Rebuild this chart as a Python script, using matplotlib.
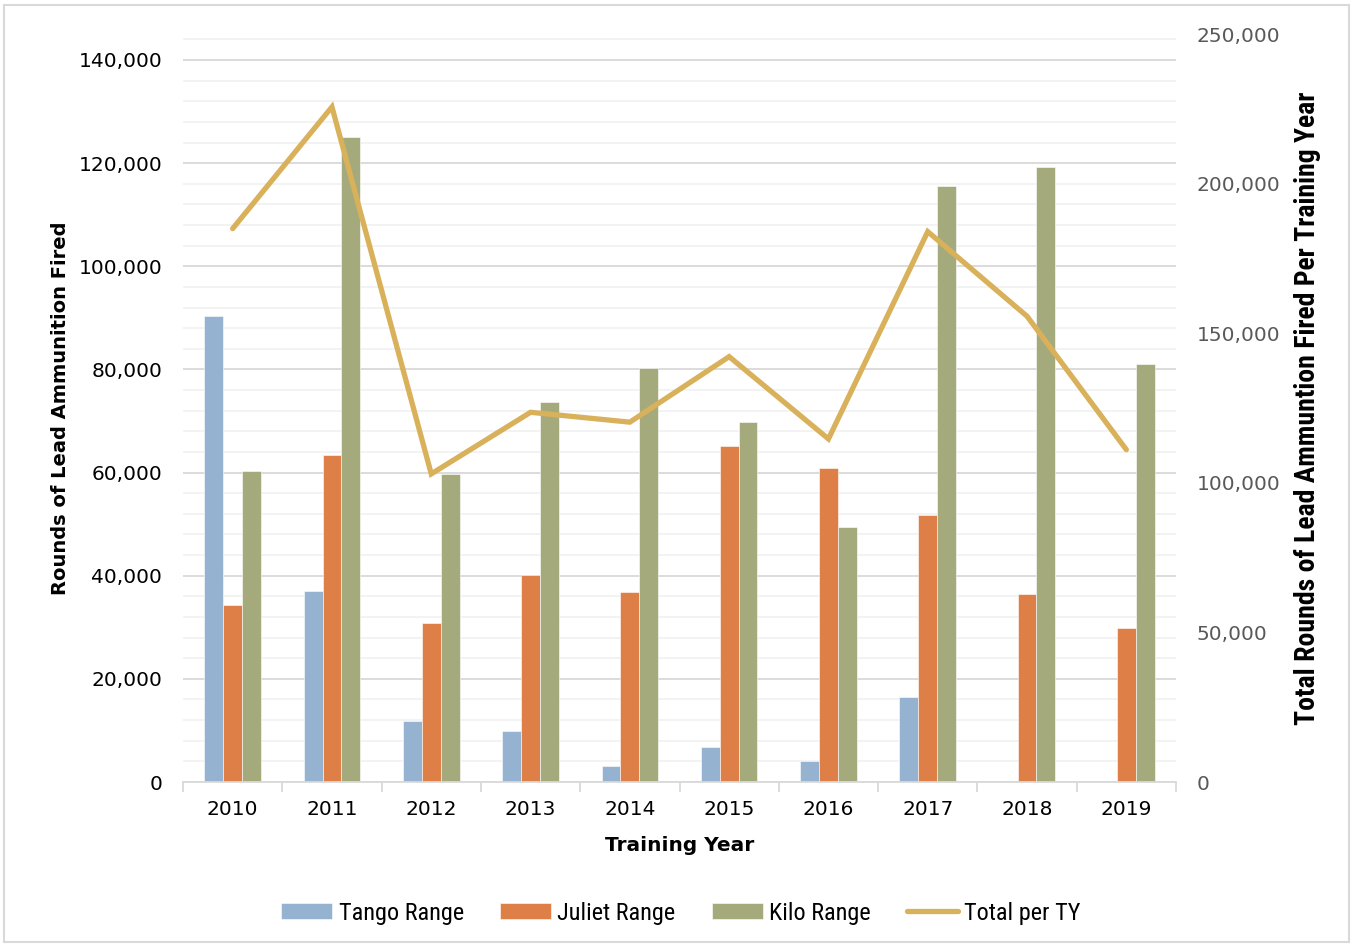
import matplotlib
matplotlib.use("Agg")
import matplotlib.pyplot as plt
import numpy as np
from matplotlib.ticker import FuncFormatter, MultipleLocator
from matplotlib.patches import Rectangle
from matplotlib import font_manager

years = ["2010", "2011", "2012", "2013", "2014", "2015", "2016", "2017", "2018", "2019"]
tango = [90300, 37000, 11900, 9800, 3100, 6800, 4100, 16400, 0, 0]
juliet = [34300, 63400, 30800, 40100, 36800, 65200, 60900, 51700, 36500, 29900]
kilo = [60300, 125000, 59800, 73600, 80200, 69800, 49400, 115600, 119300, 81100]
total = [185000, 225700, 103000, 123600, 120300, 142200, 114700, 184000, 155700, 111100]

names = set(f.name for f in font_manager.fontManager.ttflist)
narrow_fams = [f for f in ['Roboto Condensed', 'Liberation Sans Narrow', 'Roboto'] if f in names] + ['DejaVu Sans']
plt.rcParams['font.family'] = ['DejaVu Sans']

fig = plt.figure(figsize=(13.53, 9.47), dpi=100)
fig.patches.append(Rectangle((4/1353, 5/947), 1345/1353, 937/947, transform=fig.transFigure,
                             fill=False, edgecolor='#d9d9d9', linewidth=1.5))

ax = fig.add_axes([183/1353, 165/947, 993/1353, 747.8/947])
x = np.arange(len(years))
w = 0.19
c_t, c_j, c_k, c_l = '#95b3d1', '#dd7f47', '#a5aa7d', '#d9b15b'
ax.bar(x - w, tango, w, color=c_t, edgecolor='white', linewidth=0.4, label='Tango Range', zorder=2)
ax.bar(x, juliet, w, color=c_j, edgecolor='white', linewidth=0.4, label='Juliet Range', zorder=2)
ax.bar(x + w, kilo, w, color=c_k, edgecolor='white', linewidth=0.4, label='Kilo Range', zorder=2)

ax.set_xlim(-0.5, len(years) - 0.5)
ax.set_ylim(0, 145000)
ax.yaxis.set_major_locator(MultipleLocator(20000))
ax.yaxis.set_minor_locator(MultipleLocator(4000))
ax.grid(which='minor', axis='y', color='#f2f2f2', linewidth=1.3, zorder=0)
ax.grid(which='major', axis='y', color='#d9d9d9', linewidth=1.3, zorder=0)
ax.set_axisbelow(True)
ax.yaxis.set_major_formatter(FuncFormatter(lambda v, p: f"{int(v):,}"))
for s in ['top', 'right', 'left']:
    ax.spines[s].set_visible(False)
ax.spines['bottom'].set_color('#d9d9d9')
ax.spines['bottom'].set_linewidth(1.3)
ax.set_xticks(x)
ax.set_xticklabels(years)
ax.set_xticks(np.arange(-0.5, len(years)), minor=True)
ax.tick_params(axis='x', which='major', length=0, pad=13, labelsize=14.5, labelcolor='#000000')
ax.tick_params(axis='x', which='minor', length=7, color='#d9d9d9', width=1.3)
ax.tick_params(axis='y', which='both', length=0, pad=15, labelsize=14.5, labelcolor='#000000')

ax.set_xlabel('Training Year', fontsize=14.5, fontweight='bold', labelpad=12)
ax.set_ylabel('Rounds of Lead Ammunition Fired', fontsize=14, fontweight='bold', labelpad=6)

ax2 = ax.twinx()
ax2.plot(x, total, color=c_l, linewidth=3.8, solid_capstyle='round', solid_joinstyle='miter',
         label='Total per TY', zorder=3)
ax2.set_ylim(0, 250000)
ax2.yaxis.set_major_locator(MultipleLocator(50000))
ax2.yaxis.set_major_formatter(FuncFormatter(lambda v, p: f"{int(v):,}"))
for s in ['top', 'right', 'left', 'bottom']:
    ax2.spines[s].set_visible(False)
ax2.tick_params(axis='y', length=0, pad=15, labelsize=14.5, labelcolor='#595959')
ax2.set_ylabel('Total Rounds of Lead Ammuntion Fired Per Training Year', fontsize=20,
               fontweight='bold', family=narrow_fams, labelpad=10)

h1, l1 = ax.get_legend_handles_labels()
h2, l2 = ax2.get_legend_handles_labels()
fig.legend(h1 + h2, l1 + l2, loc='center', bbox_to_anchor=(681/1353, 1 - 913/947), ncol=4,
           frameon=False, prop={'family': narrow_fams, 'size': 17.5},
           handlelength=2.1, handleheight=0.6, handletextpad=0.25, columnspacing=1.5)

fig.savefig('out.png', dpi=100)
